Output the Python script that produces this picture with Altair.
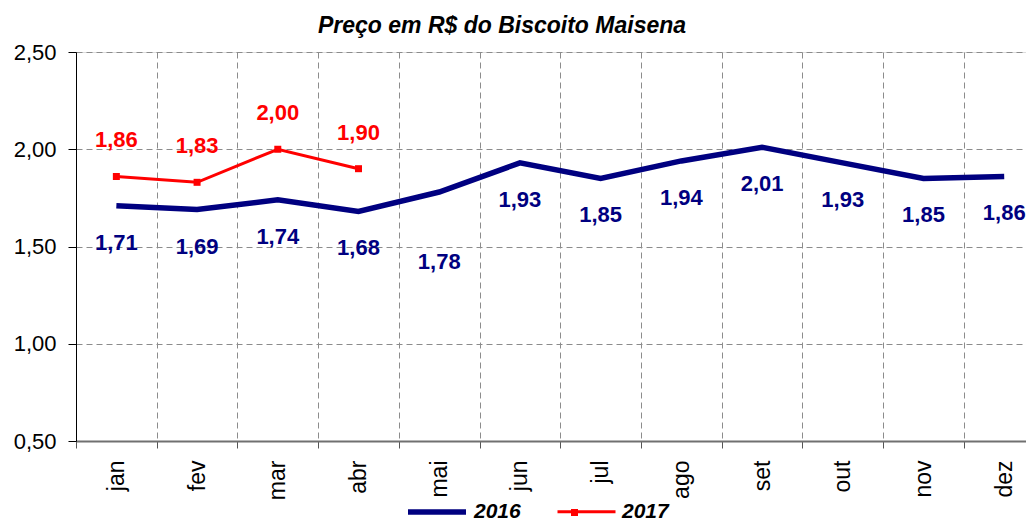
import altair as alt
import pandas as pd

months = ["jan", "fev", "mar", "abr", "mai", "jun", "jul", "ago", "set", "out", "nov", "dez"]
precos_2016 = [1.71, 1.69, 1.74, 1.68, 1.78, 1.93, 1.85, 1.94, 2.01, 1.93, 1.85, 1.86]
precos_2017 = [1.86, 1.83, 2.00, 1.90]
y_ticks = [0.5, 1.0, 1.5, 2.0, 2.5]
anos = ["2016", "2017"]
cores = ["#000080", "#FF0000"]

rows = []
for i, v in enumerate(precos_2016):
    rows.append({"m": i, "mes": months[i], "ano": "2016", "valor": v})
for i, v in enumerate(precos_2017):
    rows.append({"m": i, "mes": months[i], "ano": "2017", "valor": v})
df = pd.DataFrame(rows)
df["rotulo"] = df["valor"].map(lambda v: f"{v:.2f}".replace(".", ","))
df["marcador"] = df["ano"].map(lambda a: "m" + a)

FONT = "Liberation Sans"
xscale = alt.Scale(domain=[-0.5, 11.27], nice=False, zero=False)
yscale = alt.Scale(domain=[0.5, 2.5], nice=False, zero=False)
color_scale = alt.Scale(domain=anos, range=cores)

month_expr = "[" + ",".join(f"'{m}'" for m in months) + "][datum.value]"

grid_axis = alt.Axis(
    orient="bottom",
    values=[i - 0.5 for i in range(12)], labels=False, title=None,
    grid=True, gridDash=[6, 4], gridColor="#8c8c8c", gridWidth=1,
    ticks=True, tickSize=7, tickColor="#555555", tickWidth=1,
    domainColor="#707070", domainWidth=2,
)
label_axis = alt.Axis(
    orient="bottom",
    values=list(range(12)), labelExpr=month_expr, title=None,
    grid=False, ticks=False, tickSize=0, domain=False,
    labelAngle=270, labelFontSize=23, labelFont=FONT, labelColor="#000000",
    labelPadding=19,
)
y_axis = alt.Axis(
    orient="left",
    values=y_ticks, labelExpr="replace(format(datum.value, '.2f'), '.', ',')",
    title=None, grid=True, gridDash=[6, 4], gridColor="#8c8c8c", gridWidth=1,
    ticks=True, tickSize=8, tickColor="#000000", domainColor="#000000", domainWidth=1,
    labelFontSize=22, labelFont=FONT, labelColor="#000000", labelPadding=12,
)

legend = alt.Legend(
    title=None, orient="none", direction="horizontal", legendX=329, legendY=428,
    labelFontSize=21, labelFont=FONT, labelFontWeight="bold", labelFontStyle="italic",
    labelColor="#000000", symbolSize=3364, symbolType="stroke", columnPadding=30,
    labelOffset=5, padding=0,
)
marker_legend = alt.Legend(
    title=None, orient="none", legendX=495, legendY=457, padding=0,
    labelExpr="''", labelFontSize=1, labelOffset=0, symbolSize=49, symbolType="square",
    symbolFillColor="#FF0000", symbolStrokeColor="#FF0000", symbolStrokeWidth=0,
)

base = alt.Chart(df)

lines = base.mark_line().encode(
    x=alt.X("m:Q", scale=xscale, axis=grid_axis),
    y=alt.Y("valor:Q", scale=yscale, axis=y_axis),
    color=alt.Color("ano:N", scale=color_scale, legend=legend),
    strokeWidth=alt.StrokeWidth("ano:N", scale=alt.Scale(domain=anos, range=[5.5, 3]), legend=legend),
    detail="ano:N",
)

points = base.transform_filter("datum.ano == '2017'").mark_point(
    filled=True, size=49, opacity=1, color="#FF0000"
).encode(
    x=alt.X("m:Q", scale=xscale, axis=None),
    y=alt.Y("valor:Q", scale=yscale, axis=None),
    shape=alt.Shape("marcador:N", scale=alt.Scale(domain=["m2017"], range=["square"]), legend=marker_legend),
)

txt_style = dict(fontSize=22, fontWeight="bold", font=FONT)

lab16 = base.transform_filter("datum.ano == '2016' && datum.m != 4").mark_text(
    dy=37, color="#000080", **txt_style
).encode(
    x=alt.X("m:Q", scale=xscale, axis=label_axis),
    y=alt.Y("valor:Q", scale=yscale, axis=None),
    text="rotulo:N",
)

lab16_mai = base.transform_filter("datum.ano == '2016' && datum.m == 4").mark_text(
    dy=70, color="#000080", **txt_style
).encode(
    x=alt.X("m:Q", scale=xscale, axis=None),
    y=alt.Y("valor:Q", scale=yscale, axis=None),
    text="rotulo:N",
)

lab17 = base.transform_filter("datum.ano == '2017'").mark_text(
    dy=-36, color="#FF0000", **txt_style
).encode(
    x=alt.X("m:Q", scale=xscale, axis=None),
    y=alt.Y("valor:Q", scale=yscale, axis=None),
    text="rotulo:N",
)

chart = alt.layer(lines, points, lab16, lab16_mai, lab17).resolve_axis(
    x="independent", y="independent"
).properties(
    width=950, height=389,
    padding={"left": 68, "top": 44, "right": 0, "bottom": 83},
    autosize=alt.AutoSizeParams(type="none"),
    title=alt.TitleParams(
        "Preço em R$ do Biscoito Maisena", fontSize=23, fontWeight="bold",
        fontStyle="italic", font=FONT, color="#000000", anchor="middle",
        frame="group", dx=-49, offset=3,
    ),
).configure_view(stroke=None).configure(background="white")

chart.save("out.html", embed_options={"renderer": "svg", "actions": False})
